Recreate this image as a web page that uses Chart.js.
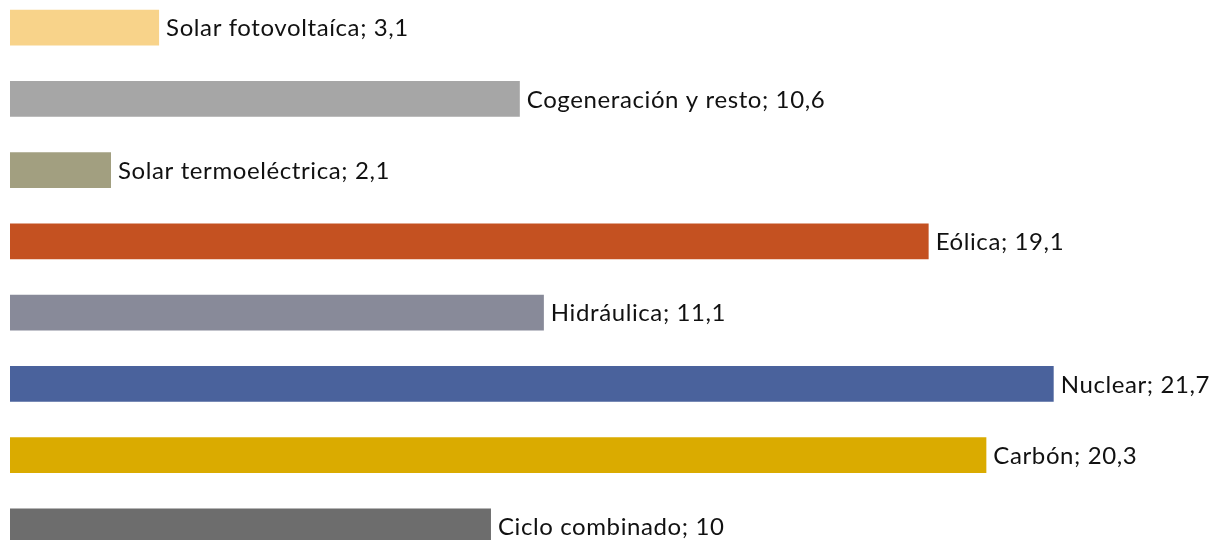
<!DOCTYPE html>
<html>
<head>
<meta charset="utf-8">
<script src="https://cdn.jsdelivr.net/npm/chart.js@4"></script>
<style>
  html, body { margin: 0; padding: 0; background: #fff; overflow: hidden; }
  #wrap { position: absolute; left: 0; top: -8px; width: 1210px; height: 570px; }
</style>
</head>
<body>
<div id="wrap"><canvas id="c"></canvas></div>
<script>
// data, top to bottom
const categories = ["Solar fotovoltaíca", "Cogeneración y resto", "Solar termoeléctrica", "Eólica",
                    "Hidráulica", "Nuclear", "Carbón", "Ciclo combinado"];
const shares = [3.1, 10.6, 2.1, 19.1, 11.1, 21.7, 20.3, 10];
const valueLabels = ["3,1", "10,6", "2,1", "19,1", "11,1", "21,7", "20,3", "10"];
const barColors = ["#F8D38A", "#A6A6A6", "#A29F80", "#C45121", "#888A99", "#4A629C", "#DAAB00", "#6D6D6D"];

// "Name; value" text right of each bar
const barLabels = {
  id: "barLabels",
  afterDatasetsDraw(chart) {
    const ctx = chart.ctx;
    const meta = chart.getDatasetMeta(0);
    ctx.save();
    ctx.font = "24px Lato";
    ctx.letterSpacing = "0.6px";
    ctx.fillStyle = "#111";
    ctx.textBaseline = "middle";
    meta.data.forEach((bar, i) => {
      ctx.fillText(categories[i] + "; " + valueLabels[i], bar.x + 7, bar.y + 1);
    });
    ctx.restore();
  }
};

new Chart(document.getElementById("c"), {
  type: "bar",
  data: {
    labels: categories,
    datasets: [{ data: shares, backgroundColor: barColors, categoryPercentage: 1, barPercentage: 0.505 }]
  },
  options: {
    indexAxis: "y",
    responsive: true,
    maintainAspectRatio: false,
    animation: false,
    layout: { padding: { left: 10, right: 0, top: 0, bottom: 0 } },
    plugins: { legend: { display: false }, tooltip: { enabled: false } },
    scales: {
      x: { display: false, min: 0, max: 24.95 },
      y: { display: false }
    }
  },
  plugins: [barLabels]
});
</script>
</body>
</html>
